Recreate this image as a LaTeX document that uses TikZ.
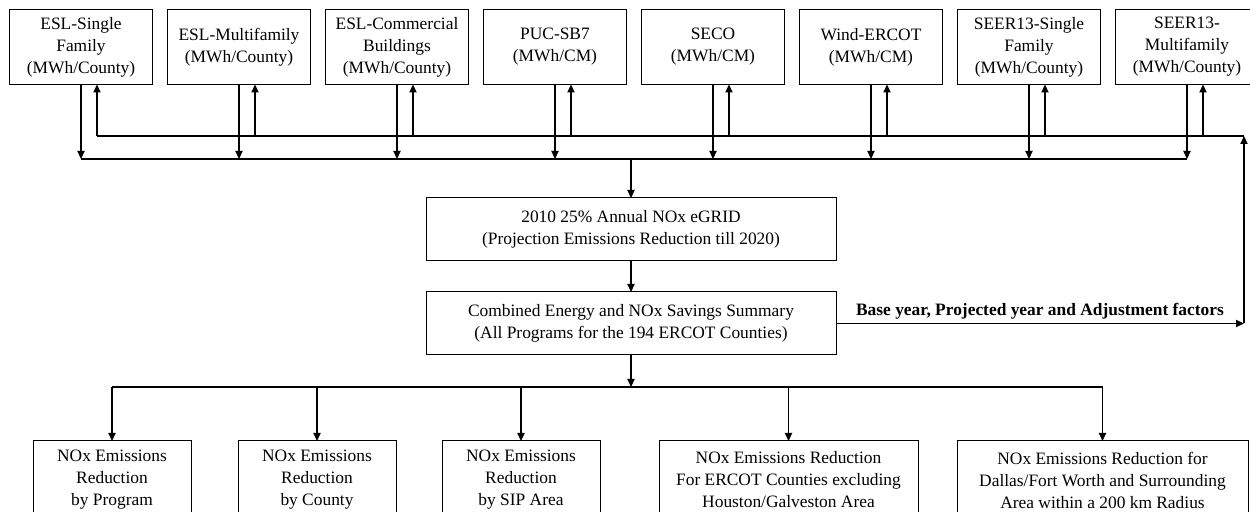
\documentclass[tikz,border=0pt]{standalone}
\usepackage{fontspec}
\setmainfont{Liberation Serif}
\usetikzlibrary{matrix,arrows,arrows.meta,positioning}

\tikzset{
  box/.style={draw, line width=0.5pt, align=center, inner sep=1pt, outer sep=0pt,
    minimum width=71.5pt, minimum height=37.5pt, font=\fontsize{8.7}{11}\selectfont},
  lbl/.style={above, inner sep=2pt, font=\fontsize{8.7}{11}\selectfont\bfseries}
}

\begin{document}
\begin{tikzpicture}[x=0.5pt, y=-0.5pt, >={Triangle[length=4pt,width=3.6pt]}, line width=0.6pt]
  \useasboundingbox (0,0) rectangle (1250,512);
  \clip (0,0) rectangle (1250,512);
  \matrix (m) [column sep=7pt, inner sep=0pt, outer sep=0pt, anchor=north west] at (9,9)
  {
\node[box] (m-1-1) {ESL-Single\\Family\\(MWh/County)}; &
\node[box] (m-1-2) {ESL-Multifamily\\(MWh/County)}; &
\node[box] (m-1-3) {ESL-Commercial\\Buildings\\(MWh/County)}; &
\node[box] (m-1-4) {PUC-SB7\\(MWh/CM)}; &
\node[box] (m-1-5) {SECO\\(MWh/CM)}; &
\node[box] (m-1-6) {Wind-ERCOT\\(MWh/CM)}; &
\node[box] (m-1-7) {SEER13-Single\\Family\\(MWh/County)}; &
\node[box] (m-1-8) {SEER13-\\Multifamily\\(MWh/County)}; \\  };

  \node[box, minimum width=205pt, minimum height=31.5pt] (grid) at (631,229.5)
    {2010 25\% Annual NOx eGRID\\(Projection Emissions Reduction till 2020)};
  \node[box, minimum width=205pt, minimum height=31.5pt] (comb) [below=15.5pt of grid]
    {Combined Energy and NOx Savings Summary\\(All Programs for the 194 ERCOT Counties)};

  \node[box, anchor=north, minimum width=79pt, minimum height=39pt] (n-1) at (112,441)
    {NOx Emissions\\Reduction\\by Program};
  \node[box, anchor=north, minimum width=79pt, minimum height=39pt] (n-2) at (317,441)
    {NOx Emissions\\Reduction\\by County};
  \node[box, anchor=north, minimum width=79pt, minimum height=39pt] (n-3) at (521,441)
    {NOx Emissions\\Reduction\\by SIP Area};
  \node[box, anchor=north, minimum width=129.5pt, minimum height=39pt] (n-4) at (788.5,441)
    {NOx Emissions Reduction\\For ERCOT Counties excluding\\Houston/Galveston Area};
  \node[box, anchor=north, minimum width=145.5pt, minimum height=39pt] (n-5) at (1102.5,441)
    {NOx Emissions Reduction for\\Dallas/Fort Worth and Surrounding\\Area within a 200 km Radius};

  \coordinate (bus) at (80.5,159);
  \coordinate (fb) at (97,136);
  \coordinate (ret) at (1244,136);
  \coordinate (split) at (112,387);

  \draw (m-1-1 |- bus) -- (m-1-8 |- bus);
  \draw (fb) -- (ret);
  \draw (split) -- (n-5 |- split);

  \path[->]
  (m-1-1) edge (m-1-1 |- bus)
  (m-1-2) edge (m-1-2 |- bus)
  (m-1-3) edge (m-1-3 |- bus)
  (m-1-4) edge (m-1-4 |- bus)
  (m-1-5) edge (m-1-5 |- bus)
  (m-1-6) edge (m-1-6 |- bus)
  (m-1-7) edge (m-1-7 |- bus)
  (m-1-8) edge (m-1-8 |- bus)
  ([xshift=8pt]m-1-1.south) edge[<-] +(0,52)
  ([xshift=8pt]m-1-2.south) edge[<-] +(0,52)
  ([xshift=8pt]m-1-3.south) edge[<-] +(0,52)
  ([xshift=8pt]m-1-4.south) edge[<-] +(0,52)
  ([xshift=8pt]m-1-5.south) edge[<-] +(0,52)
  ([xshift=8pt]m-1-6.south) edge[<-] +(0,52)
  ([xshift=8pt]m-1-7.south) edge[<-] +(0,52)
  ([xshift=8pt]m-1-8.south) edge[<-] +(0,52)
  (grid |- bus) edge (grid)
  (grid) edge (comb)
  (comb) edge (comb |- split)
  (comb.east) edge node [lbl] {Base year, Projected year and Adjustment factors} (comb.east -| ret)
  (comb.east -| ret) edge (ret)
  (n-1 |- split) edge (n-1)
  (n-2 |- split) edge (n-2)
  (n-3 |- split) edge (n-3)
  (n-4 |- split) edge (n-4)
  (n-5 |- split) edge (n-5)
;
\end{tikzpicture}
\end{document}
